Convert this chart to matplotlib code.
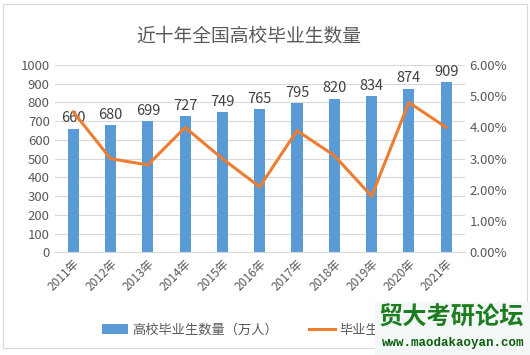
import matplotlib.pyplot as plt
from matplotlib.patches import Rectangle
from matplotlib.ticker import PercentFormatter

plt.rcParams['font.family'] = ['Noto Sans CJK SC', 'DejaVu Sans']

years = ['2011年', '2012年', '2013年', '2014年', '2015年', '2016年',
         '2017年', '2018年', '2019年', '2020年', '2021年']
graduates = [660, 680, 699, 727, 749, 765, 795, 820, 834, 874, 909]
growth = [4.5, 3.0, 2.8, 4.0, 3.0, 2.1, 3.9, 3.1, 1.8, 4.8, 4.0]

fig = plt.figure(figsize=(5.3, 3.55), dpi=100)
ax = fig.add_axes([0.103, 0.289, 0.774, 0.528])
ax2 = ax.twinx()

x = list(range(len(years)))
bars = ax.bar(x, graduates, width=0.3, color='#5B9BD5', zorder=2,
              label='高校毕业生数量（万人）')
line, = ax2.plot(x, growth, color='#ED7D31', lw=2.2, zorder=3,
                 label='毕业生数量增长率')

for xi, v in zip(x, graduates):
    ax.text(xi, v + 18, str(v), ha='center', va='bottom', fontsize=10.5,
            color='#404040')

ax.set_xlim(-0.5, len(years) - 0.5)
ax.set_ylim(0, 1000)
ax.set_yticks(range(0, 1001, 100))
ax2.set_ylim(0, 6)
ax2.set_yticks(range(0, 7))
ax2.yaxis.set_major_formatter(PercentFormatter(decimals=2))

ax.grid(axis='y', color='#d9d9d9', lw=0.8, zorder=0)
ax.set_axisbelow(True)
for a in (ax, ax2):
    for s in a.spines.values():
        s.set_visible(False)
    a.tick_params(length=0, labelsize=9.5, labelcolor='#595959')
ax.spines['bottom'].set_visible(True)
ax.spines['bottom'].set_color('#d9d9d9')

ax.set_xticks(x)
ax.set_xticklabels(years, rotation=45, ha='right', rotation_mode='anchor',
                   fontsize=8.5, color='#595959')

fig.text(0.47, 0.90, '近十年全国高校毕业生数量', ha='center', va='center',
         fontsize=13.5, color='#595959')

fig.legend(handles=[bars, line], loc='center', bbox_to_anchor=(0.516, 0.07),
           ncol=2, frameon=False, fontsize=9.5, labelcolor='#595959',
           handlelength=2.0, handletextpad=0.3, columnspacing=2.3)

fig.patches.append(Rectangle((0.006, 0.02), 0.988, 0.97, transform=fig.transFigure,
                             fill=False, ec='#d9d9d9', lw=0.8))

# watermark over the legend
wm = Rectangle((0.708, 0.0), 0.292, 0.15, transform=fig.transFigure,
               fc='#f4f7f7', ec='none', zorder=10)
fig.patches.append(wm)
fig.text(0.851, 0.105, '贸大考研论坛', ha='center', va='center', fontsize=17.5,
         fontweight='bold', color='#1e7d1e', zorder=11)
fig.text(0.855, 0.033, 'www.maodakaoyan.com', ha='center', va='center',
         fontsize=9, fontweight='bold', family='Liberation Mono', color='#0b5e0b',
         zorder=11)

fig.savefig('out.png', dpi=100)
